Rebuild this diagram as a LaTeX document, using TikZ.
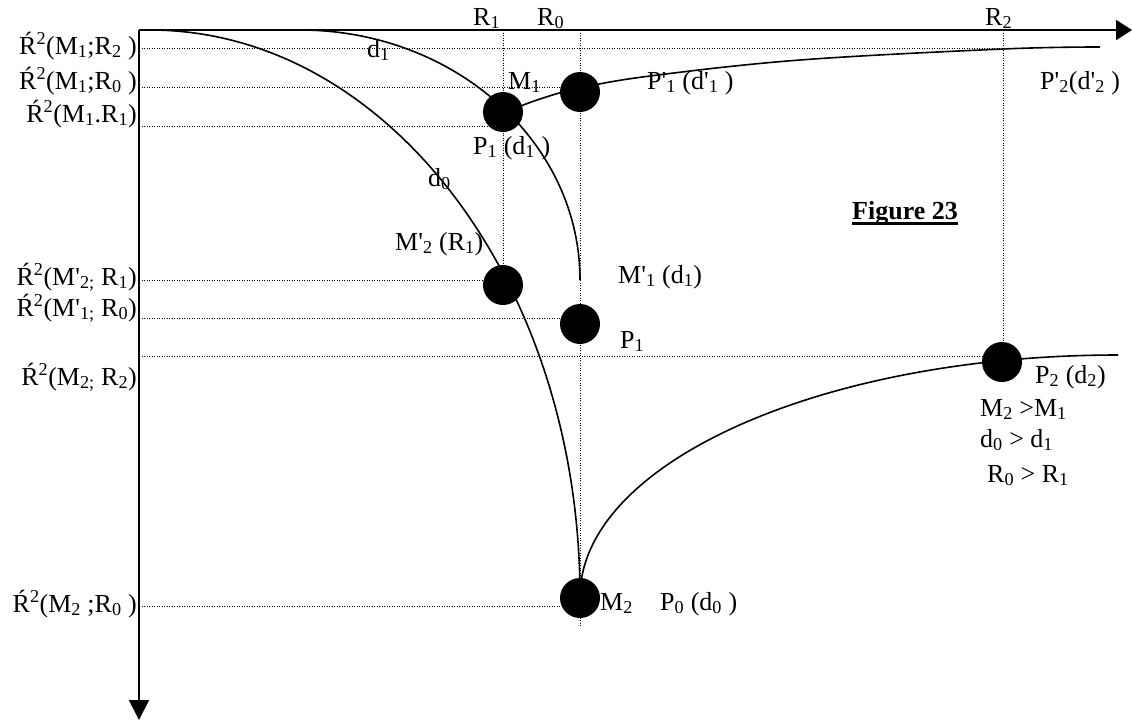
\documentclass[tikz,border=0pt]{standalone}
\usepackage{fontspec}
\setmainfont{Liberation Serif}
\usetikzlibrary{arrows.meta,calc}
\newcommand{\sbs}[1]{\textsubscript{#1}}
\newcommand{\sps}[1]{\textsuperscript{#1}}
\newcommand{\pr}{\textquotesingle}
\begin{document}
\begin{tikzpicture}[x=1pt,y=1pt,
  ax/.style={line width=1.8pt},
  crv/.style={line width=1.6pt},
  dotl/.style={line width=1pt, dash pattern=on 1pt off 1.5pt},
  blob/.style={circle, fill=black, minimum size=40pt, inner sep=0pt},
  lbl/.style={inner sep=0pt, anchor=base west, font=\fontsize{26}{30}\selectfont},
  lbr/.style={inner sep=0pt, anchor=base east, font=\fontsize{26}{30}\selectfont}]
\useasboundingbox (0,0) rectangle (1132,-721);
% axes coordinates
\coordinate (O) at (139,-30);
\coordinate (xend) at (1132,-30);
\coordinate (yend) at (139,-720);
\coordinate (R1top) at (503,-30);
\coordinate (R0top) at (580,-30);
\coordinate (R2top) at (1003,-30);
\coordinate (R0bot) at (580,-627);
% dot centres
\coordinate (cP1d) at (503,-112);
\coordinate (cQ) at (580,-92);
\coordinate (cMp2) at (503,-285);
\coordinate (cP1) at (580,-324);
\coordinate (cP2) at (1002,-362);
\coordinate (cM2) at (580,-598);
% horizontal guide starts
\coordinate (h1) at (139,-48);
\coordinate (h2) at (139,-87);
\coordinate (h3) at (139,-126);
\coordinate (h4) at (139,-280);
\coordinate (h5) at (139,-318);
\coordinate (h6) at (139,-356);
\coordinate (h7) at (139,-606);
% dotted guides
\draw[dotl] (h1) -- (h1 -| R2top);
\draw[dotl] (h2) -- (h2 -| R0top);
\draw[dotl] (h3) -- (h3 -| R1top);
\draw[dotl] (h4) -- (h4 -| R1top);
\draw[dotl] (h5) -- (h5 -| R0top);
\draw[dotl] (h6) -- (h6 -| R2top);
\draw[dotl] (h7) -- (h7 -| R0top);
\draw[dotl] (R1top) -- (R1top |- cMp2);
\draw[dotl] (R0top) -- (R0bot);
\draw[dotl] (R2top) -- (R2top |- cP2);
% curves
\draw[crv] (150,-30) arc[start angle=90,end angle=0,x radius=430pt,y radius=567pt];
\draw[crv] (300,-30) arc[start angle=90,end angle=0,x radius=280pt,y radius=250pt];
\draw[crv] (580,-597) arc[start angle=180,end angle=90,x radius=538pt,y radius=242pt];
\draw[crv] plot[smooth,tension=0.6] coordinates {(503,-113) (540,-99) (580,-88) (650,-76) (800,-60) (1003,-49) (1100,-47)};
% axes
\draw[ax,-{Triangle[length=16pt,width=20pt]}] (O) -- (xend);
\draw[ax,-{Triangle[length=20pt,width=20pt]}] (O) -- (yend);
% dots
\node[blob] (P1d) at (cP1d) {};
\node[blob] (Q) at (cQ) {};
\node[blob] (Mp2) at (cMp2) {};
\node[blob] (P1) at (cP1) {};
\node[blob] (P2) at (cP2) {};
\node[blob] (M2) at (cM2) {};
% top labels
\node[lbl] (lR1) at (473,-25) {R\sbs{1}};
\node[lbl] (lR0) at (537,-25) {R\sbs{0}};
\node[lbl] (lR2) at (985,-25) {R\sbs{2}};
% curve / point labels
\node[lbl] (ld1) at (367,-57) {d\sbs{1}};
\node[lbl] (lM1) at (508,-89) {M\sbs{1}};
\node[lbl] (lPp1) at (647,-89) {P\pr\sbs{1} (d\pr\sbs{1} )};
\node[lbl] (lPp2) at (1040,-89) {P\pr\sbs{2}(d\pr\sbs{2} )};
\node[lbl] (lP1d) at (473,-154) {P\sbs{1} (d\sbs{1} )};
\node[lbl] (ld0) at (428,-186) {d\sbs{0}};
\node[lbl] (lMp2) at (395,-250) {M\pr\sbs{2} (R\sbs{1})};
\node[lbl,font=\fontsize{26}{30}\selectfont\bfseries] (fig) at (852,-219) {Figure 23};
\draw[line width=2.5pt] ($(fig.base west)+(0,-4.5)$) -- ($(fig.base east)+(0,-4.5)$);
\node[lbl] (lMp1) at (618,-283) {M\pr\sbs{1} (d\sbs{1})};
\node[lbl] (lP1) at (620,-348) {P\sbs{1}};
\node[lbl] (lP2) at (1035,-383) {P\sbs{2} (d\sbs{2})};
\node[lbl] (c1) at (980,-416) {M\sbs{2} >M\sbs{1}};
\node[lbl] (c2) at (980,-447) {d\sbs{0} > d\sbs{1}};
\node[lbl] (c3) at (987,-482) {R\sbs{0} > R\sbs{1}};
\node[lbl] (lM2) at (600,-610) {M\sbs{2}};
\node[lbl] (lP0) at (660,-610) {P\sbs{0} (d\sbs{0} )};
% left labels
\node[lbr] (y1) at (137,-54) {Ŕ\sps{2}(M\sbs{1};R\sbs{2} )};
\node[lbr] (y2) at (137,-89) {Ŕ\sps{2}(M\sbs{1};R\sbs{0} )};
\node[lbr] (y3) at (137,-122) {Ŕ\sps{2}(M\sbs{1}.R\sbs{1})};
\node[lbr] (y4) at (137,-285) {Ŕ\sps{2}(M\pr\sbs{2;} R\sbs{1})};
\node[lbr] (y5) at (137,-316) {Ŕ\sps{2}(M\pr\sbs{1;} R\sbs{0})};
\node[lbr] (y6) at (137,-385) {Ŕ\sps{2}(M\sbs{2;} R\sbs{2})};
\node[lbr] (y7) at (137,-612) {Ŕ\sps{2}(M\sbs{2} ;R\sbs{0} )};
\end{tikzpicture}
\end{document}
